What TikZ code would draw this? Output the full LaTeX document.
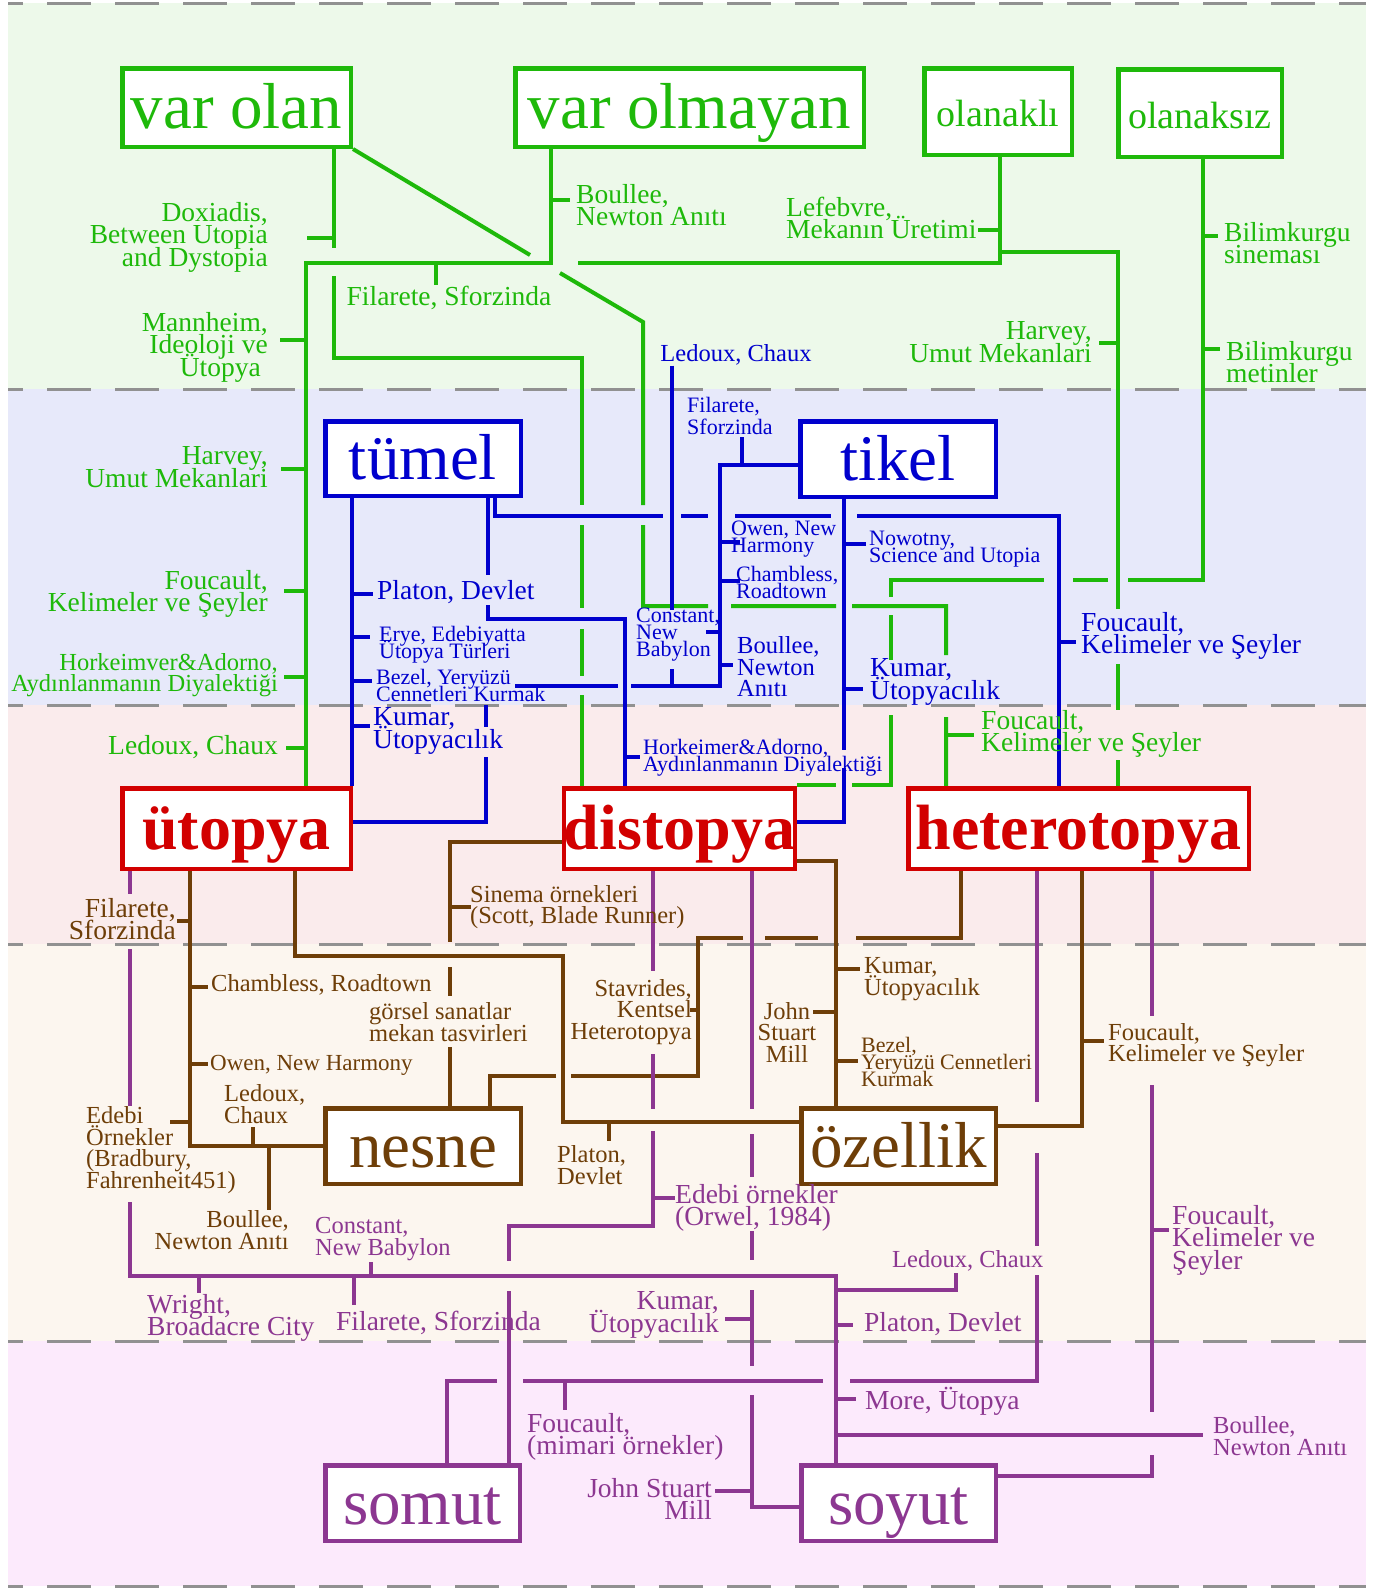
\documentclass[tikz,border=0pt]{standalone}
\usepackage{fontspec}
\setmainfont{Liberation Serif}
\pgfdeclarelayer{bands}
\pgfdeclarelayer{wires}
\pgfsetlayers{bands,wires,main}
\definecolor{gcol}{RGB}{30,185,10}
\definecolor{bcol}{RGB}{0,0,205}
\definecolor{rcol}{RGB}{210,0,0}
\definecolor{ncol}{RGB}{110,62,8}
\definecolor{pcol}{RGB}{140,55,145}
\definecolor{dashcol}{RGB}{145,145,145}
\definecolor{bandg}{RGB}{237,249,234}
\definecolor{bandb}{RGB}{231,233,250}
\definecolor{bandr}{RGB}{250,235,236}
\definecolor{bandn}{RGB}{252,246,239}
\definecolor{bandp}{RGB}{252,234,252}
\newcommand\labA{\fontsize{27.5}{22.5}\selectfont\lineskiplimit=-60pt}
\newcommand\labB{\fontsize{24.5}{21.5}\selectfont\lineskiplimit=-60pt}
\newcommand\labC{\fontsize{22}{17}\selectfont\lineskiplimit=-60pt}
\newcommand\labD{\fontsize{23}{20}\selectfont\lineskiplimit=-60pt}
\newcommand\labE{\fontsize{22}{22.5}\selectfont\lineskiplimit=-60pt}
\tikzset{
  box/.style={draw, fill=white, line width=4.5pt, inner sep=0pt, text height=42pt, text depth=0pt, font=\fontsize{65}{70}\selectfont},
  topbox/.style={box, text height=30pt, font=\fontsize{38}{42}\selectfont},
  redbox/.style={box, draw=rcol, text=rcol, font=\bfseries\fontsize{64}{70}\selectfont},
  glab/.style={inner sep=0pt, text=gcol},
  blab/.style={inner sep=0pt, text=bcol},
  nlab/.style={inner sep=0pt, text=ncol},
  plab/.style={inner sep=0pt, text=pcol},
  gline/.style={draw=gcol, line width=4pt},
  bline/.style={draw=bcol, line width=4pt},
  nline/.style={draw=ncol, line width=4pt},
  pline/.style={draw=pcol, line width=4pt},
  bandline/.style={draw=dashcol, line width=3pt, dash pattern=on 44pt off 24pt, dash phase=29pt}
}
\begin{document}
\begin{tikzpicture}[x=1pt, y=-1pt]
\useasboundingbox (0,0) rectangle (1376,1588);

% boxes
\node[box, draw=gcol, text=gcol, minimum width=228.5pt, minimum height=78.5pt] (varolan) at (236.5,107.5) {var olan};
\node[box, draw=gcol, text=gcol, minimum width=348.5pt, minimum height=78.5pt] (varolmayan) at (689.5,107.5) {var olmayan};
\node[topbox, draw=gcol, text=gcol, minimum width=147.5pt, minimum height=86.5pt] (olanakli) at (998,111.5) {olanaklı};
\node[topbox, draw=gcol, text=gcol, minimum width=163.5pt, minimum height=87.5pt] (olanaksiz) at (1200,113) {olanaksız};
\node[box, draw=bcol, text=bcol, minimum width=195.5pt, minimum height=74.5pt] (tumel) at (423,458.5) {tümel};
\node[box, draw=bcol, text=bcol, minimum width=195.5pt, minimum height=75.5pt] (tikel) at (898,459) {tikel};
\node[redbox, minimum width=228.5pt, minimum height=80.5pt] (utopya) at (236.5,828.5) {ütopya};
\node[redbox, minimum width=228.5pt, minimum height=80.5pt] (distopya) at (679.5,828.5) {distopya};
\node[redbox, minimum width=340.5pt, minimum height=80.5pt] (heterotopya) at (1078.5,828.5) {heterotopya};
\node[box, draw=ncol, text=ncol, minimum width=195.5pt, minimum height=75.5pt] (nesne) at (423,1146) {nesne};
\node[box, draw=ncol, text=ncol, minimum width=194.5pt, minimum height=75.5pt] (ozellik) at (898.5,1146) {özellik};
\node[box, draw=pcol, text=pcol, minimum width=194.5pt, minimum height=75.5pt] (somut) at (422.5,1503) {somut};
\node[box, draw=pcol, text=pcol, minimum width=194.5pt, minimum height=75.5pt] (soyut) at (898.5,1503) {soyut};

% green labels
\node[glab, font=\labA, align=right, anchor=east] (doxiadis) at (268,237) {Doxiadis,\\Between Utopia\\and Dystopia};
\node[glab, font=\labA, align=left, anchor=west] (boulleeg) at (576,205) {Boullee,\\Newton Anıtı};
\node[glab, font=\labA] (filareteg) at (449,298) {Filarete, Sforzinda};
\node[glab, font=\labA, align=right, anchor=east] (mannheim) at (268,347) {Mannheim,\\Ideoloji ve\\Ütopya\hspace*{7pt}};
\node[glab, font=\labA, align=left, anchor=west] (lefebvre) at (786,218) {Lefebvre,\\Mekanın Üretimi};
\node[glab, font=\labA, align=right, anchor=east] (harveyr) at (1092,342) {Harvey,\\Umut Mekanlari};
\node[glab, font=\labA, align=left, anchor=west] (bilimsin) at (1224,243) {Bilimkurgu\\sineması};
\node[glab, font=\labA, align=left, anchor=west] (bilimmet) at (1226,362) {Bilimkurgu\\metinler};
\node[glab, font=\labA, align=right, anchor=east] (harveyl) at (268,467) {Harvey,\\Umut Mekanlari};
\node[glab, font=\labA, align=right, anchor=east] (foucaultgl) at (268,594) {Foucault,\\Kelimeler ve Şeyler};
\node[glab, font=\labB, align=right, anchor=east] (horkheimerg) at (278,675) {Horkeimver\&Adorno,\\Aydınlanmanın Diyalektiği};
\node[glab, font=\labA, anchor=east] (ledouxg) at (278,747) {Ledoux, Chaux};
\node[glab, font=\labA, align=left, anchor=west] (foucaultgr) at (981,734) {Foucault,\\Kelimeler ve Şeyler};

% blue labels
\node[blab, font=\labB] (ledouxb) at (736,355) {Ledoux, Chaux};
\node[blab, font=\labE, align=left, anchor=west] (filareteb) at (687,416) {Filarete,\\Sforzinda};
\node[blab, font=\labA, anchor=west] (platonb) at (377,592) {Platon, Devlet};
\node[blab, font=\labC, align=left, anchor=west] (erye) at (379,645) {Erye, Edebiyatta\\Ütopya Türleri};
\node[blab, font=\labC, align=left, anchor=west] (bezelb) at (376,685) {Bezel, Yeryüzü\\Cennetleri Kurmak};
\node[blab, font=\labA, align=left, anchor=west] (kumarbl) at (373,731) {Kumar,\\Ütopyacılık};
\node[blab, font=\labC, align=left, anchor=west] (owenb) at (731,539) {Owen, New\\Harmony};
\node[blab, font=\labC, align=left, anchor=west] (chamblessb) at (736,582) {Chambless,\\Roadtown};
\node[blab, font=\labC, align=left, anchor=west] (constantb) at (636,635) {Constant,\\New\\Babylon};
\node[blab, font=\labB, align=left, anchor=west] (boulleeb) at (737,667) {Boullee,\\Newton\\Anıtı};
\node[blab, font=\labC, align=left, anchor=west] (nowotny) at (869,549) {Nowotny,\\Science and Utopia};
\node[blab, font=\labA, align=left, anchor=west] (kumarbr) at (870,682) {Kumar,\\Ütopyacılık};
\node[blab, font=\labA, align=left, anchor=west] (foucaultb) at (1081,636) {Foucault,\\Kelimeler ve Şeyler};
\node[blab, font=\labC, align=left, anchor=west] (horkheimerb) at (643,758) {Horkeimer\&Adorno,\\Aydınlanmanın Diyalektiği};

% brown labels
\node[nlab, font=\labA, align=right, anchor=east] (filareten) at (176,919) {Filarete,\\Sforzinda};
\node[nlab, font=\labB, anchor=west] (chamblessn) at (211,985) {Chambless, Roadtown};
\node[nlab, font=\labD, anchor=west] (owenn) at (210,1065) {Owen, New Harmony};
\node[nlab, font=\labB, align=left, anchor=west] (ledouxn) at (224,1104) {Ledoux,\\Chaux};
\node[nlab, font=\labB, align=left, anchor=west] (edebin) at (86,1150) {Edebi\\Örnekler\\(Bradbury,\\Fahrenheit451)};
\node[nlab, font=\labB, align=right, anchor=east] (boulleen) at (289,1230) {Boullee,\\Newton Anıtı};
\node[nlab, font=\labB, align=left, anchor=west] (sinema) at (470,907) {Sinema örnekleri\\(Scott, Blade Runner)};
\node[nlab, font=\labB, align=left, anchor=west] (gorsel) at (369,1022) {görsel sanatlar\\mekan tasvirleri};
\node[nlab, font=\labB, align=right, anchor=east] (stavrides) at (692,1012) {Stavrides,\\Kentsel\\Heterotopya};
\node[nlab, font=\labB, align=left, anchor=west] (platonn) at (557,1165) {Platon,\\Devlet};
\node[nlab, font=\labB, align=left, anchor=west] (kumarn) at (864,979) {Kumar,\\Ütopyacılık};
\node[nlab, font=\labB, align=center] (johnn) at (787,1032) {John\\Stuart\\Mill};
\node[nlab, font=\labC, align=left, anchor=west] (bezeln) at (861,1062) {Bezel,\\Yeryüzü Cennetleri\\Kurmak};
\node[nlab, font=\labB, align=left, anchor=west] (foucaultn) at (1108,1045) {Foucault,\\Kelimeler ve Şeyler};

% purple labels
\node[plab, font=\labA, align=left, anchor=west] (edebip) at (675,1208) {Edebi örnekler\\(Orwel, 1984)};
\node[plab, font=\labB, align=left, anchor=west] (constantp) at (315,1239) {Constant,\\New Babylon};
\node[plab, font=\labA, align=left, anchor=west] (wright) at (147,1318) {Wright,\\Broadacre City};
\node[plab, font=\labA, anchor=west] (filaretep) at (336,1323) {Filarete, Sforzinda};
\node[plab, font=\labB, anchor=west] (ledouxp) at (892,1261) {Ledoux, Chaux};
\node[plab, font=\labA, align=right, anchor=east] (kumarp) at (719,1315) {Kumar,\\Ütopyacılık};
\node[plab, font=\labA, anchor=west] (platonp) at (864,1324) {Platon, Devlet};
\node[plab, font=\labA, anchor=west] (morep) at (865,1401) {More, Ütopya};
\node[plab, font=\labA, align=left, anchor=west] (foucaultp) at (527,1437) {Foucault,\\(mimari örnekler)};
\node[plab, font=\labA, align=right, anchor=east] (johnp) at (712,1499) {John Stuart\\Mill};
\node[plab, font=\labB, align=left, anchor=west] (boulleep) at (1213,1436) {Boullee,\\Newton Anıtı};
\node[plab, font=\labA, align=left, anchor=west] (foucaultpr) at (1172,1240) {Foucault,\\Kelimeler ve\\Şeyler};

\begin{pgfonlayer}{bands}
\fill[white] (0,0) rectangle (1376,1588);
\fill[bandg] (8,3) rectangle (1366,389);
\fill[bandb] (8,389) rectangle (1366,705);
\fill[bandr] (8,705) rectangle (1366,944);
\fill[bandn] (8,944) rectangle (1366,1341);
\fill[bandp] (8,1341) rectangle (1366,1586);
\foreach \yy in {3,389,705,944,1341,1586}
  \draw[bandline] (8,\yy) -- (1366,\yy);
\end{pgfonlayer}

\begin{pgfonlayer}{wires}
% green
\draw[gline] (varolan.south -| 334,0) -- (334,248) (334,276) -- (334,358) -- (582,358) -- (582,505) (582,525) -- (582,608) (582,629) -- (582,676) (582,695) -- (distopya.north -| 582,0);
\draw[gline] (334,238) -- (307,238);
\draw[gline] (varolan.south east) -- (530,255) (560,273) -- (643,322) -- (643,505) (643,525) -- (643,606) -- (708,606) (731,606) -- (836,606) (852,606) -- (946,606) -- (946,655) (946,717) -- (heterotopya.north -| 946,0);
\draw[gline] (946,735) -- (974,735);
\draw[gline] (varolmayan.south -| 551,0) -- (551,263) -- (306,263) -- (utopya.north -| 306,0);
\draw[gline] (551,200) -- (570,200);
\draw[gline] (436,263) -- (436,285);
\foreach \yy/\xx in {340/280, 469/281, 591/284, 677/284, 748/286}
  \draw[gline] (306,\yy) -- (\xx,\yy);
\draw[gline] (olanakli.south -| 1000,0) -- (1000,263) -- (578,263);
\draw[gline] (1000,230) -- (978,230);
\draw[gline] (1000,252) -- (1118,252) -- (1118,609) (1118,664) -- (1118,710) (1118,760) -- (heterotopya.north -| 1118,0);
\draw[gline] (1118,343) -- (1099,343);
\draw[gline] (olanaksiz.south -| 1203,0) -- (1203,580) -- (1128,580) (1108,580) -- (1073,580) (1044,580) -- (891,580) -- (891,597) (891,615) -- (891,660) (891,715) -- (891,785) -- (852,785) (836,785) -- (distopya.east |- 0,785);
\draw[gline] (1203,236) -- (1218,236);
\draw[gline] (1203,349) -- (1220,349);

% blue
\draw[bline] (tumel.south -| 352,0) -- (utopya.north -| 352,0);
\foreach \yy/\xx in {594/373, 637/370, 681/372, 726/370}
  \draw[bline] (352,\yy) -- (\xx,\yy);
\draw[bline] (tumel.south -| 488,0) -- (488,575) (488,605) -- (488,619) -- (625,619) -- (distopya.north -| 625,0);
\draw[bline] (625,757) -- (640,757);
\draw[bline] (tumel.south -| 495,0) -- (495,516) -- (663,516) (681,516) -- (708,516) (735,516) -- (831,516) (857,516) -- (1059,516) -- (heterotopya.north -| 1059,0);
\draw[bline] (1059,642) -- (1076,642);
\draw[bline] (tikel.south -| 844,0) -- (844,750) (844,768) -- (844,822) -- (distopya.east |- 0,822);
\draw[bline] (844,544) -- (866,544);
\draw[bline] (844,689) -- (863,689);
\draw[bline] (tikel.west |- 0,465) -- (720,465) -- (720,686) -- (631,686) (618,686) -- (515,686) (486,705) -- (486,727) (486,757) -- (486,822) -- (utopya.east |- 0,822);
\draw[bline] (742,465) -- (742,437);
\draw[bline] (720,542) -- (740,542);
\draw[bline] (720,581) -- (740,581);
\draw[bline] (720,632) -- (706,632);
\draw[bline] (720,665) -- (733,665);
\draw[bline] (ledouxb.south -| 672,0) -- (672,610) (672,669) -- (672,686);

% brown
\draw[nline] (utopya.south -| 190,0) -- (190,1146) -- (nesne.west |- 0,1146);
\draw[nline] (190,921) -- (177,921);
\draw[nline] (190,987) -- (208,987);
\draw[nline] (190,1064) -- (208,1064);
\draw[nline] (190,1122) -- (170,1122);
\draw[nline] (253,1146) -- (253,1127);
\draw[nline] (269,1146) -- (269,1210);
\draw[nline] (utopya.south -| 295,0) -- (295,956) -- (563,956) -- (563,1122) -- (ozellik.west |- 0,1122);
\draw[nline] (609,1122) -- (609,1141);
\draw[nline] (distopya.west |- 0,842) -- (450,842) -- (450,942) (450,967) -- (450,996) (450,1047) -- (nesne.north -| 450,0);
\draw[nline] (450,907) -- (471,907);
\draw[nline] (distopya.east |- 0,861) -- (836,861) -- (ozellik.north -| 836,0);
\draw[nline] (836,969) -- (860,969);
\draw[nline] (836,1012) -- (813,1012);
\draw[nline] (836,1061) -- (858,1061);
\draw[nline] (heterotopya.south -| 961,0) -- (961,938) -- (856,938) (818,938) -- (765,938) (743,938) -- (698,938) -- (698,1076) -- (571,1076) (556,1076) -- (490,1076) -- (nesne.north -| 490,0);
\draw[nline] (698,1010) -- (690,1010);
\draw[nline] (heterotopya.south -| 1082,0) -- (1082,1126) -- (ozellik.east |- 0,1126);
\draw[nline] (1082,1041) -- (1104,1041);

% purple
\draw[pline] (utopya.south -| 130,0) -- (130,894) (130,949) -- (130,1106) (130,1202) -- (130,1276) -- (836,1276) -- (soyut.north -| 836,0);
\draw[pline] (199,1276) -- (199,1293);
\draw[pline] (354,1276) -- (354,1305);
\draw[pline] (371,1276) -- (371,1262);
\draw[pline] (836,1325) -- (853,1325);
\draw[pline] (836,1399) -- (856,1399);
\draw[pline] (836,1290) -- (956,1290) -- (956,1273);
\draw[pline] (836,1435) -- (1203,1435);
\draw[pline] (distopya.south -| 653,0) -- (653,971) (653,1054) -- (653,1109) (653,1131) -- (653,1226) -- (509,1226) -- (509,1261) (509,1291) -- (somut.north -| 509,0);
\draw[pline] (653,1198) -- (675,1198);
\draw[pline] (distopya.south -| 752,0) -- (752,1109) (752,1134) -- (752,1177) (752,1231) -- (752,1260) (752,1290) -- (752,1366) (752,1395) -- (752,1507) -- (soyut.west |- 0,1507);
\draw[pline] (752,1319) -- (725,1319);
\draw[pline] (752,1491) -- (715,1491);
\draw[pline] (heterotopya.south -| 1037,0) -- (1037,1102) (1037,1153) -- (1037,1246) (1037,1275) -- (1037,1381) -- (850,1381) (823,1381) -- (523,1381) (497,1381) -- (447,1381) -- (somut.north -| 447,0);
\draw[pline] (565,1381) -- (565,1410);
\draw[pline] (heterotopya.south -| 1152,0) -- (1152,1016) (1152,1085) -- (1152,1412) (1152,1455) -- (1152,1476) -- (soyut.east |- 0,1476);
\draw[pline] (1152,1230) -- (1169,1230);
\end{pgfonlayer}
\end{tikzpicture}
\end{document}
